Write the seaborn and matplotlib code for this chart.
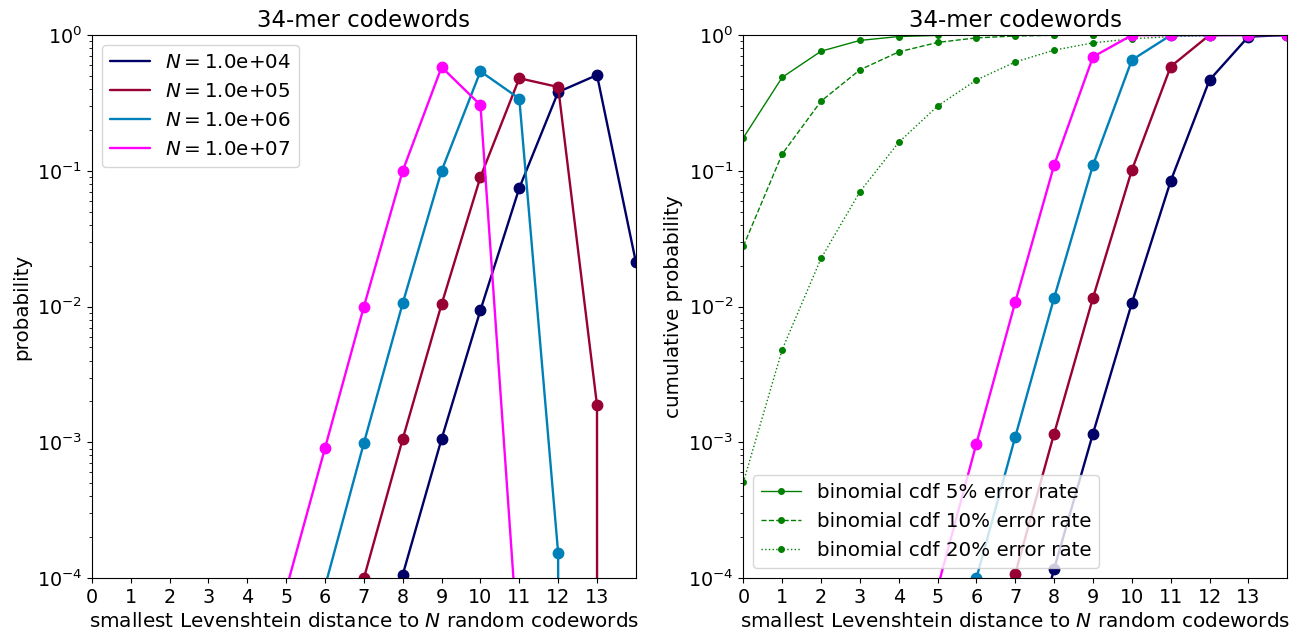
import numpy as np
import pandas as pd
import matplotlib
matplotlib.use("Agg")
import matplotlib.pyplot as plt
import seaborn as sns

# distances 0..14
distance = list(range(15))
n_labels = ["1.0e+04", "1.0e+05", "1.0e+06", "1.0e+07"]
n_colors = ["#000066", "#990033", "#0080b8", "#ff00ff"]

# probability of smallest distance
prob_1e4 = [0, 0, 0, 0, 0, 0, 0, 1e-5, 1.06e-4, 1.06e-3, 9.4e-3, 0.0746, 0.38, 0.507, 0.0213]
prob_1e5 = [0, 0, 0, 0, 0, 0, 1e-6, 1.0e-4, 1.06e-3, 0.0104, 0.09, 0.48, 0.414, 1.88e-3, 0]
prob_1e6 = [0, 0, 0, 0, 0, 5e-6, 8.7e-5, 9.9e-4, 0.0106, 0.1, 0.54, 0.34, 1.53e-4, 0, 0]
prob_1e7 = [0, 0, 0, 0, 1e-6, 8.3e-5, 9.1e-4, 0.01, 0.1, 0.58, 0.305, 2.4e-5, 0, 0, 0]

# cumulative probability (right panel)
cum_1e4 = [0, 0, 0, 0, 0, 0, 0, 1e-5, 1.17e-4, 1.16e-3, 0.0106, 0.084, 0.466, 0.972, 1.0]
cum_1e5 = [0, 0, 0, 0, 0, 0, 1e-6, 1.08e-4, 1.16e-3, 0.0116, 0.101, 0.585, 0.999, 1.0, 1.0]
cum_1e6 = [0, 0, 0, 0, 0, 5e-6, 1.0e-4, 1.1e-3, 0.0116, 0.11, 0.654, 0.995, 1.0, 1.0, 1.0]
cum_1e7 = [0, 0, 0, 0, 1e-6, 8.5e-5, 9.8e-4, 0.0108, 0.11, 0.69, 0.996, 1.0, 1.0, 1.0, 1.0]

# binomial cdf curves, 34-mer
binom_05 = [0.1748, 0.4876, 0.7593, 0.9118, 0.974, 0.9937, 0.9987, 0.99975, 1.0, 1.0, 1.0, 1.0, 1.0, 1.0, 1.0]
binom_10 = [0.0278, 0.1329, 0.3255, 0.5538, 0.7504, 0.8815, 0.9519, 0.9831, 0.9949, 0.9986, 0.99966, 1.0, 1.0, 1.0, 1.0]
binom_20 = [0.000507, 0.00482, 0.0226, 0.0700, 0.1619, 0.2997, 0.4662, 0.6327, 0.7732, 0.8746, 0.9380, 0.9726, 0.9892, 0.9962, 0.9988]
binom_labels = ["binomial cdf 5% error rate", "binomial cdf 10% error rate", "binomial cdf 20% error rate"]
binom_styles = ["-", "--", ":"]

sns.set_style("ticks", {"axes.edgecolor": "black", "text.color": "black",
                        "axes.labelcolor": "black", "xtick.color": "black",
                        "ytick.color": "black"})
plt.rcParams["font.family"] = ["DejaVu Sans"]
plt.rcParams["font.size"] = 14
plt.rcParams["mathtext.fontset"] = "dejavusans"

fig = plt.figure(figsize=(12.95, 6.36), dpi=100)
ax1 = fig.add_axes([0.071, 0.091, 0.420, 0.854])
ax2 = fig.add_axes([0.574, 0.091, 0.420, 0.854])

probs = [prob_1e4, prob_1e5, prob_1e6, prob_1e7]
cums = [cum_1e4, cum_1e5, cum_1e6, cum_1e7]

for ax in (ax1, ax2):
    ax.set_yscale("log")

for p, lab, col in zip(probs, n_labels, n_colors):
    df = pd.DataFrame({"d": distance, "p": p})
    ax1.plot(df["d"], df["p"], color=col, lw=1.7, label=r"$N = $" + lab)
    ax1.plot(df["d"], df["p"], "o", color=col, ms=7.5)

for b, lab, ls in zip([binom_05, binom_10, binom_20], binom_labels, binom_styles):
    ax2.plot(distance, b, ls=ls, marker="o", ms=4, color="green", lw=1, label=lab)

for c, col in zip(cums, n_colors):
    df = pd.DataFrame({"d": distance, "c": c})
    sns.lineplot(data=df, x="d", y="c", ax=ax2, color=col, lw=1.7)
    ax2.plot(df["d"], df["c"], "o", color=col, ms=7.5)

for ax in (ax1, ax2):
    ax.set_xlim(0, 14)
    ax.set_ylim(1e-4, 1)
    ax.set_xticks(range(14))
    ax.set_title("34-mer codewords", fontsize=16.4)
    ax.set_xlabel(r"smallest Levenshtein distance to $N$ random codewords", fontsize=14.4)
    ax.tick_params(labelsize=13.8)
    for s in ax.spines.values():
        s.set_visible(True)

ax1.set_ylabel("probability", fontsize=14.3)
ax2.set_ylabel("cumulative probability", fontsize=14.3)
ax1.legend(loc="upper left", fontsize=14.3)
ax2.legend(loc="lower left", fontsize=14.3)

fig.savefig("out.png", dpi=100)
